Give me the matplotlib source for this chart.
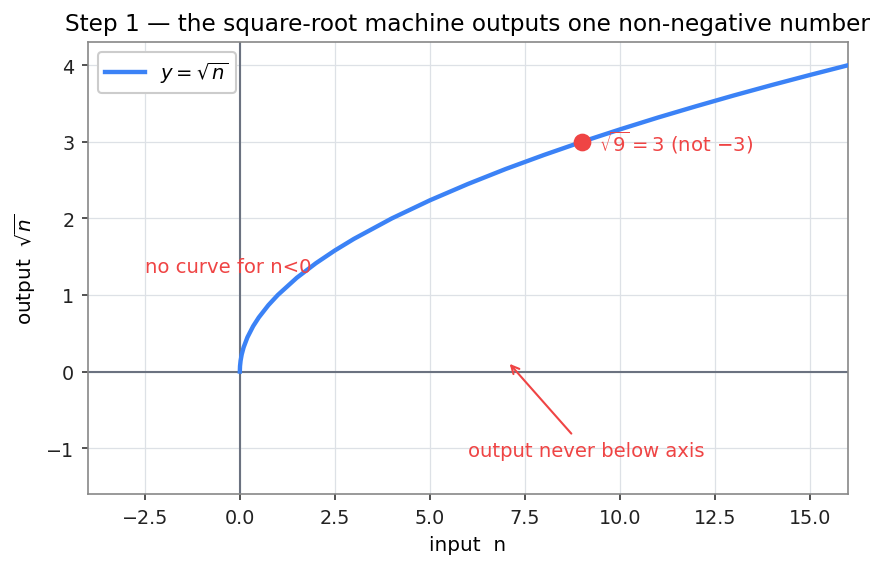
import matplotlib
matplotlib.use('Agg')
import matplotlib.pyplot as plt

# Data: y = sqrt(n)
n_values = [0, 0.005, 0.02, 0.05, 0.1, 0.2, 0.35, 0.5, 0.75, 1, 1.5, 2, 2.5, 3, 4, 5, 6, 7,
            8, 9, 10, 11, 12, 13, 14, 15, 16]
y_values = [0, 0.071, 0.141, 0.224, 0.316, 0.447, 0.592, 0.707, 0.866, 1.0, 1.225, 1.414,
            1.581, 1.732, 2.0, 2.236, 2.449, 2.646, 2.828, 3.0, 3.162, 3.317, 3.464, 3.606,
            3.742, 3.873, 4.0]
point_n, point_y = 9, 3
x_ticks = [-2.5, 0.0, 2.5, 5.0, 7.5, 10.0, 12.5, 15.0]
y_ticks = [-1, 0, 1, 2, 3, 4]

BLUE = '#3b82f6'
RED = '#ef4444'
AXIS = '#6b7280'

fig, ax = plt.subplots(figsize=(5.913, 3.793), dpi=150)

ax.grid(True, color='#dde1e6', linewidth=0.6)
ax.set_axisbelow(True)
ax.axhline(0, color=AXIS, linewidth=1.0, zorder=1)
ax.axvline(0, color=AXIS, linewidth=1.0, zorder=1)

ax.plot(n_values, y_values, color=BLUE, linewidth=2.1, label=r'$y=\sqrt{n}$', zorder=3)
ax.plot([point_n], [point_y], 'o', color=RED, markersize=7.5, zorder=4)

ax.text(point_n + 0.45, point_y, r'$\sqrt{9}=3$ (not $-3$)', color=RED, fontsize=9.4,
        va='center', ha='left')
ax.text(-2.5, 1.37, 'no curve for n<0', color=RED, fontsize=9.4, va='center', ha='left')
ax.annotate('output never below axis', xy=(7.1, 0.1), xytext=(6.0, -1.03),
            color=RED, fontsize=9.4, ha='left', va='center',
            arrowprops=dict(arrowstyle='->', color=RED, lw=1.0, shrinkA=2, shrinkB=0))

ax.set_xlim(-4, 16)
ax.set_ylim(-1.6, 4.3)
ax.set_xticks(x_ticks)
ax.set_yticks(y_ticks)
ax.tick_params(labelsize=9.2, color='#333333', labelcolor='#222222', length=3, width=0.8)
for s in ax.spines.values():
    s.set_color('#888888')

ax.set_xlabel('input  n', fontsize=9.6)
ax.set_ylabel(r'output  $\sqrt{n}$', fontsize=9.6)
ax.set_title('Step 1 — the square-root machine outputs one non-negative number', fontsize=11.2)
ax.legend(loc='upper left', fontsize=9.4, framealpha=1, edgecolor='#cccccc')

plt.subplots_adjust(left=0.099, right=0.956, top=0.924, bottom=0.13)
plt.savefig('out.png', dpi=150, facecolor='white')
plt.close()
